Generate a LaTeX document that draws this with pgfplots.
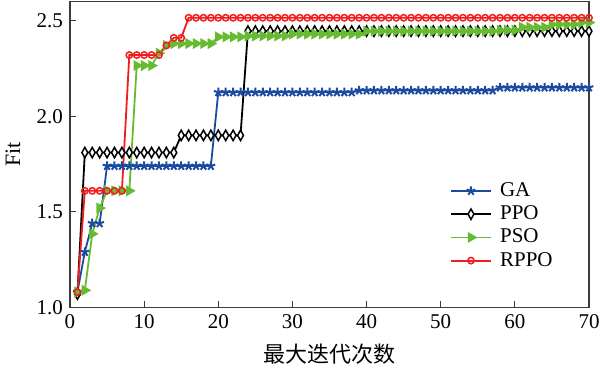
\documentclass[border=0pt]{standalone}
\usepackage{fontspec}
\setmainfont{Liberation Serif}
\newfontfamily\cjk{Noto Sans CJK SC}
\usepackage{pgfplots}
\usepackage{pgfplotstable}
\pgfplotsset{compat=1.18}
\definecolor{gacol}{RGB}{28,74,160}
\definecolor{psocol}{RGB}{102,187,51}
\definecolor{rppocol}{RGB}{240,30,30}
\definecolor{framecol}{RGB}{60,60,60}
\pgfplotstableread{
x ga ppo pso rppo
1 1.08 1.07 1.08 1.08
2 1.29 1.81 1.09 1.61
3 1.44 1.81 1.385 1.61
4 1.44 1.81 1.52 1.61
5 1.74 1.81 1.61 1.61
6 1.74 1.81 1.61 1.61
7 1.74 1.81 1.61 1.61
8 1.74 1.81 1.61 2.32
9 1.74 1.81 2.265 2.32
10 1.74 1.81 2.265 2.32
11 1.74 1.81 2.265 2.32
12 1.74 1.81 2.33 2.32
13 1.74 1.81 2.37 2.37
14 1.74 1.81 2.38 2.41
15 1.74 1.90 2.38 2.41
16 1.74 1.90 2.38 2.515
17 1.74 1.90 2.38 2.515
18 1.74 1.90 2.38 2.515
19 1.74 1.90 2.38 2.515
20 2.125 1.90 2.415 2.515
21 2.125 1.90 2.415 2.515
22 2.125 1.90 2.415 2.515
23 2.125 1.90 2.415 2.515
24 2.125 2.445 2.42 2.515
25 2.125 2.445 2.42 2.515
26 2.125 2.445 2.42 2.515
27 2.125 2.445 2.42 2.515
28 2.125 2.445 2.42 2.515
29 2.125 2.445 2.42 2.515
30 2.125 2.445 2.43 2.515
31 2.125 2.445 2.43 2.515
32 2.125 2.445 2.43 2.515
33 2.125 2.445 2.43 2.515
34 2.125 2.445 2.43 2.515
35 2.125 2.445 2.43 2.515
36 2.125 2.445 2.43 2.515
37 2.125 2.445 2.43 2.515
38 2.125 2.445 2.43 2.515
39 2.135 2.445 2.43 2.515
40 2.135 2.445 2.445 2.515
41 2.135 2.445 2.445 2.515
42 2.135 2.445 2.445 2.515
43 2.135 2.445 2.445 2.515
44 2.135 2.445 2.445 2.515
45 2.135 2.445 2.445 2.515
46 2.135 2.445 2.445 2.515
47 2.135 2.445 2.445 2.515
48 2.135 2.445 2.445 2.515
49 2.135 2.445 2.445 2.515
50 2.135 2.445 2.445 2.515
51 2.135 2.445 2.445 2.515
52 2.135 2.445 2.445 2.515
53 2.135 2.445 2.445 2.515
54 2.135 2.445 2.445 2.515
55 2.135 2.445 2.445 2.515
56 2.135 2.445 2.445 2.515
57 2.135 2.445 2.445 2.515
58 2.15 2.445 2.45 2.515
59 2.15 2.445 2.45 2.515
60 2.15 2.445 2.45 2.515
61 2.15 2.445 2.465 2.515
62 2.15 2.445 2.465 2.515
63 2.15 2.445 2.465 2.515
64 2.15 2.445 2.465 2.515
65 2.15 2.445 2.48 2.515
66 2.15 2.445 2.48 2.515
67 2.15 2.445 2.48 2.515
68 2.15 2.445 2.48 2.515
69 2.15 2.445 2.49 2.515
70 2.15 2.445 2.49 2.515
}\fitdata
\begin{document}
\begin{tikzpicture}
\begin{axis}[
  scale only axis,
  width=259.5pt, height=153pt,
  xmin=0, xmax=70, ymin=1.0, ymax=2.6,
  xtick={0,10,20,30,40,50,60,70},
  xticklabels={0,10,20,30,40,50,60,70},
  ytick={1.0,1.5,2.0,2.5},
  yticklabels={1.0,1.5,2.0,2.5},
  tick label style={font=\rmfamily\fontsize{10.5}{12}\selectfont},
  tick pos=left, tick align=inside, major tick length=3pt,
  axis line style={framecol, line width=0.7pt},
  every tick/.style={framecol, line width=0.6pt},
  xlabel={\cjk 最大迭代次数},
  ylabel={Fit},
  every axis x label/.style={at={([yshift=-23.5pt]axis description cs:0.5,0)}, anchor=center, font=\fontsize{11}{13}\selectfont},
  every axis y label/.style={at={([xshift=-28.5pt]axis description cs:0,0.5)}, rotate=90, anchor=center, font=\fontsize{11}{13}\selectfont},
  legend style={draw=none, fill=none, at={(0.72,0.431)}, anchor=north west,
    font=\fontsize{10.5}{12}\selectfont, row sep=0.6pt,
    nodes={inner sep=0.6pt, text height=7.6pt, text depth=2.2pt}},
  legend cell align=left,
  legend image code/.code={\draw[mark repeat=2,mark phase=2,#1] plot coordinates {(0pt,0pt) (10pt,0pt) (20pt,0pt)}; \path (23.5pt,0pt);},
]
\coordinate (ll) at (rel axis cs:0,0);
\coordinate (ur) at (rel axis cs:1,1);
\addplot[gacol, line width=0.9pt, mark=star, mark size=2.3pt, mark options={line width=1pt, solid}] table[x=x,y=ga] {\fitdata};
\addlegendentry{GA}
\addplot[black, line width=0.9pt, mark=diamond*, mark size=2.6pt, mark options={fill=white, line width=0.75pt, xscale=0.75, solid}] table[x=x,y=ppo] {\fitdata};
\addlegendentry{PPO}
\addplot[psocol, line width=0.9pt, mark=triangle*, mark size=2.3pt, mark options={rotate=-90, solid}] table[x=x,y=pso] {\fitdata};
\addlegendentry{PSO}
\addplot[rppocol, line width=0.9pt, mark=o, mark size=1.6pt, mark options={fill=white, line width=0.75pt, solid}] table[x=x,y=rppo] {\fitdata};
\addlegendentry{RPPO}
\end{axis}
\pgfresetboundingbox
\path ([shift={(-35pt,-30pt)}]ll) rectangle ([shift={(5.5pt,0.75pt)}]ur);
\end{tikzpicture}
\end{document}
